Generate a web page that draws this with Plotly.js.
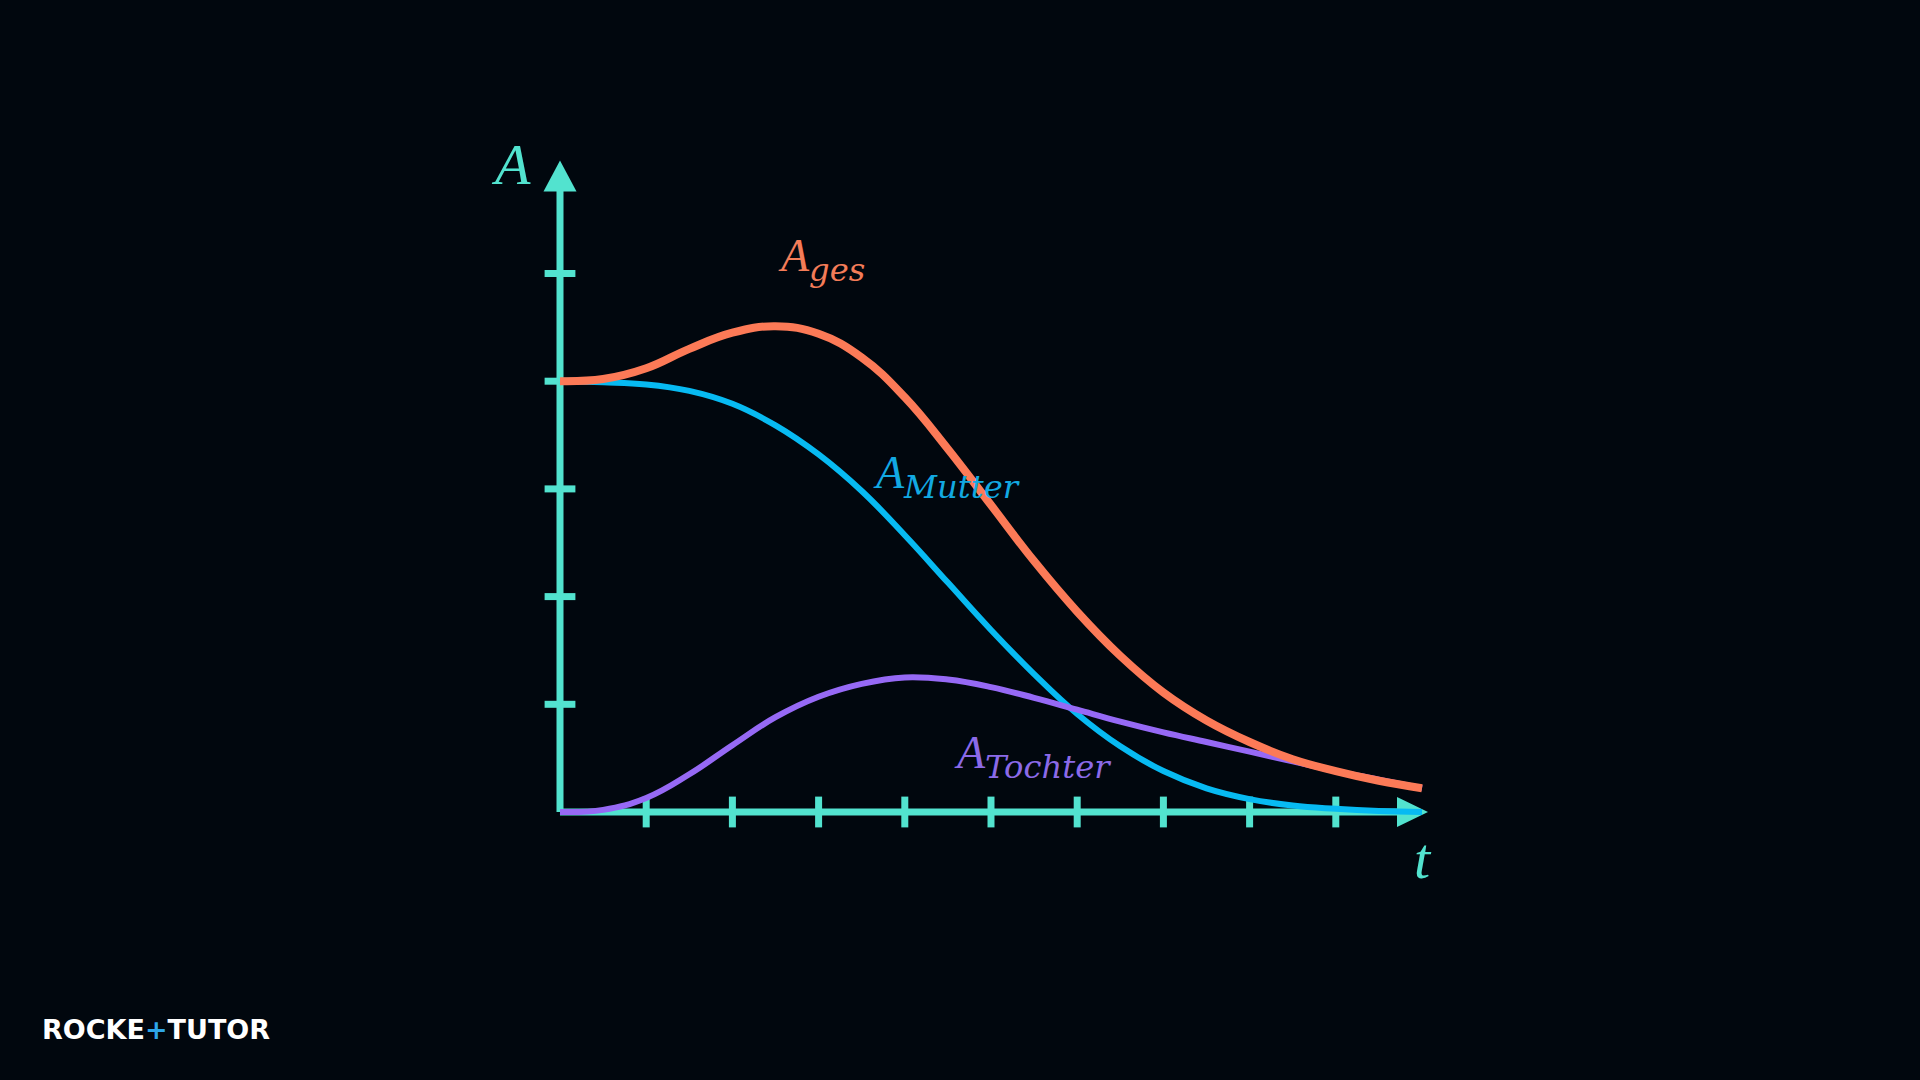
<!DOCTYPE html>
<html>
<head>
<meta charset="utf-8">
<script src="https://cdn.plot.ly/plotly-3.0.1.min.js"></script>
<style>
  html, body { margin: 0; padding: 0; background: #01070e; }
  #chart { width: 1920px; height: 1080px; }
</style>
</head>
<body>
<div id="chart"></div>
<script>
// ---- data ----
const time = [0, 0.5, 1, 1.5, 2, 2.5, 3, 3.5, 4, 4.5, 5, 5.5, 6, 6.5, 7, 7.5, 8, 8.5, 9, 9.5, 10];
const aMutter = [4.00, 3.99, 3.97, 3.91, 3.79, 3.59, 3.32, 2.98, 2.57, 2.13, 1.69, 1.28, 0.91, 0.61, 0.38, 0.22, 0.12, 0.06, 0.03, 0.01, 0.00];
const aTochter = [0.00, 0.02, 0.13, 0.35, 0.62, 0.88, 1.07, 1.19, 1.25, 1.23, 1.16, 1.06, 0.95, 0.84, 0.74, 0.65, 0.56, 0.47, 0.38, 0.30, 0.22];
const aGes = [4.00, 4.02, 4.12, 4.30, 4.45, 4.51, 4.44, 4.22, 3.85, 3.37, 2.85, 2.33, 1.86, 1.45, 1.11, 0.85, 0.65, 0.49, 0.38, 0.29, 0.22];
const xTicks = [1, 2, 3, 4, 5, 6, 7, 8, 9];
const yTicks = [1, 2, 3, 4, 5];
const labelBase = 'A';
const labelSubs = ['Mutter', 'Tochter', 'ges'];

// ---- styling / layout constants ----
const BG = '#01070e';
const AXIS = '#52e3cf';
const C_MUT = '#07baf2';
const C_TOC = '#9669f5';
const C_GES = '#fc7a57';
const xEnd = 10.07, yEnd = 6.05;
const SERIF = '"Liberation Serif", "DejaVu Serif", serif';
const sub = s => labelBase + "<sub><span style='font-family:DejaVu Serif'>" + s + "</span></sub>";

const traces = [
  { x: xTicks, y: xTicks.map(() => 0), mode: 'markers', hoverinfo: 'skip',
    marker: { symbol: 'line-ns', size: 22, line: { color: AXIS, width: 7 } } },
  { x: yTicks.map(() => 0), y: yTicks, mode: 'markers', hoverinfo: 'skip',
    marker: { symbol: 'line-ew', size: 22, line: { color: AXIS, width: 7 } } },
  { x: time, y: aMutter, mode: 'lines', name: labelSubs[0],
    line: { color: C_MUT, width: 6, shape: 'spline', smoothing: 1.2 } },
  { x: time, y: aTochter, mode: 'lines', name: labelSubs[1],
    line: { color: C_TOC, width: 6, shape: 'spline', smoothing: 1.2 } },
  { x: time, y: aGes, mode: 'lines', name: labelSubs[2],
    line: { color: C_GES, width: 8, shape: 'spline', smoothing: 1.2 } }
];

const shapes = [
  { type: 'line', layer: 'below', xref: 'x', yref: 'y', x0: 0, y0: 0, x1: xEnd - 0.2, y1: 0,
    line: { color: AXIS, width: 7 } },
  { type: 'line', layer: 'below', xref: 'x', yref: 'y', x0: 0, y0: 0, x1: 0, y1: yEnd - 0.15,
    line: { color: AXIS, width: 7 } },
  { type: 'path', layer: 'below', xref: 'x', yref: 'y', xsizemode: 'pixel', ysizemode: 'pixel',
    xanchor: xEnd, yanchor: 0, path: 'M 0 0 L -31 15 L -31 -15 Z',
    fillcolor: AXIS, line: { width: 0 } },
  { type: 'path', layer: 'below', xref: 'x', yref: 'y', xsizemode: 'pixel', ysizemode: 'pixel',
    xanchor: 0, yanchor: yEnd, path: 'M 0 0 L -16.5 -31 L 16.5 -31 Z',
    fillcolor: AXIS, line: { width: 0 } }
];

const annotations = [
  { text: 'A', x: -0.82, y: 5.69, xref: 'x', yref: 'y', xanchor: 'left', yanchor: 'bottom', showarrow: false,
    font: { family: SERIF, size: 58, color: AXIS, style: 'italic' } },
  { text: 't', x: 9.88, y: -0.75, xref: 'x', yref: 'y', xanchor: 'left', yanchor: 'bottom', showarrow: false,
    font: { family: SERIF, size: 58, color: AXIS, style: 'italic' } },
  { text: sub(labelSubs[2]), x: 2.50, y: 4.84, xref: 'x', yref: 'y', xanchor: 'left', yanchor: 'bottom', showarrow: false,
    font: { family: SERIF, size: 46, color: '#f47c58', style: 'italic' } },
  { text: sub(labelSubs[0]), x: 3.61, y: 2.82, xref: 'x', yref: 'y', xanchor: 'left', yanchor: 'bottom', showarrow: false,
    font: { family: SERIF, size: 46, color: '#12a9e2', style: 'italic' } },
  { text: sub(labelSubs[1]), x: 4.55, y: 0.22, xref: 'x', yref: 'y', xanchor: 'left', yanchor: 'bottom', showarrow: false,
    font: { family: SERIF, size: 46, color: '#8b6ae8', style: 'italic' } },
  { text: "<b>ROCKE<span style='color:#2ea6e8'>+</span>TUTOR</b>", x: 40 / 1920, y: 0.031,
    xref: 'paper', yref: 'paper', xanchor: 'left', yanchor: 'bottom', showarrow: false,
    font: { family: '"DejaVu Sans", sans-serif', size: 27, color: '#ffffff' } }
];

const layout = {
  width: 1920, height: 1080, autosize: false,
  margin: { l: 0, r: 0, t: 0, b: 0, pad: 0 },
  paper_bgcolor: BG, plot_bgcolor: BG,
  showlegend: false, hovermode: false,
  xaxis: { range: [-560 / 86.2, 1360 / 86.2], visible: false, fixedrange: true },
  yaxis: { range: [-268 / 107.7, 812 / 107.7], visible: false, fixedrange: true },
  shapes: shapes,
  annotations: annotations
};

Plotly.newPlot('chart', traces, layout, { displayModeBar: false, staticPlot: true });
</script>
</body>
</html>
